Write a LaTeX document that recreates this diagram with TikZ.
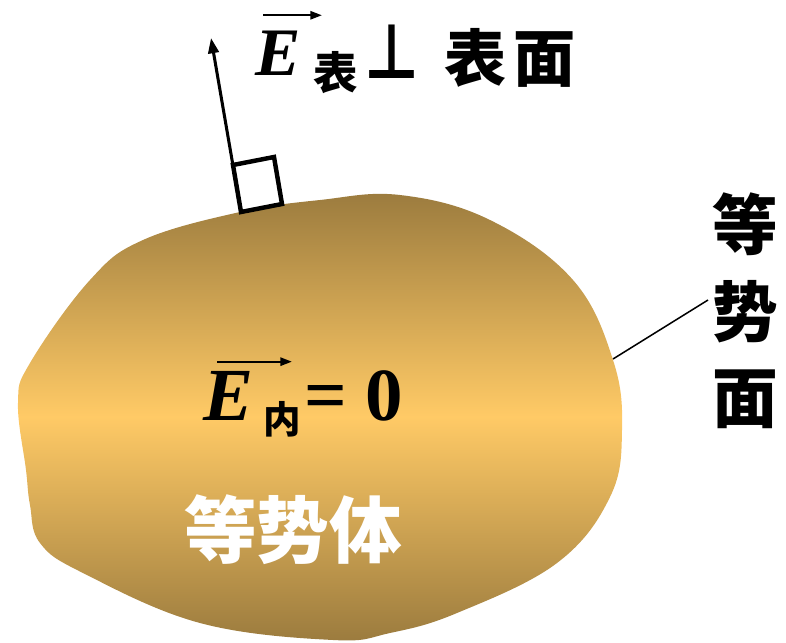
\documentclass[tikz,border=0pt]{standalone}
\usepackage{fontspec}
\setmainfont{Liberation Serif}
\newfontfamily\cjk{Noto Sans CJK SC}
\newfontfamily\symfont{DejaVu Sans}
\usetikzlibrary{arrows.meta,calc}

\definecolor{bodyedge}{HTML}{9B7B3E}
\definecolor{bodymid}{HTML}{FFCA66}

\begin{document}
\begin{tikzpicture}[
		x=0.03cm, y=-0.03cm,
		field arrow/.style={line width=2.6pt, -{Triangle[length=13pt, width=9pt]}},
		right box/.style={line width=3.8pt, line join=miter},
		vec arrow/.style={line width=2pt, -{Triangle[length=10pt, width=7pt]}},
		leader/.style={line width=1.3pt},
		bigE/.style={inner sep=0pt, font=\fontsize{#1}{#1}\selectfont\bfseries\itshape},
		han/.style={inner sep=0pt, font=\fontsize{#1}{#1}\selectfont\cjk\bfseries}
		]
		\useasboundingbox (0,0) rectangle (786,642);
		
		% ---------------------------------------------------------
		% The conductor (equipotential body)
		% ---------------------------------------------------------
		\shade[top color=bodyedge, bottom color=bodyedge, middle color=bodymid]
		plot[smooth cycle, tension=0.65] coordinates {
			(240,212) (320,200) (400,195) (490,220) (573,280) (613,360)
			(622,430) (610,497) (557,563) (457,613) (390,633) (333,640)
			(200,623) (83,573) (40,543) (30,505) (26,470) (18,403)
			(30,363) (90,280) (143,240)};
		
		% ---------------------------------------------------------
		% Field at the surface, normal to it
		% ---------------------------------------------------------
		\coordinate (foot) at (241,212);
		\coordinate (tip) at (211,38);
		\draw[field arrow] (foot) -- (tip);
		\draw[right box] (foot) -- ++(41,-8) -- ++(-8,-47) -- ++(-41,8) -- cycle;
		
		\node[bigE=58pt, anchor=base west] (Etop) at (255,75) {E};
		\draw[vec arrow] ([shift={(8,-15)}]Etop.north west) -- ([shift={(67,-15)}]Etop.north west);
		\node[han=38pt] (subtop) at (336,73) {表};
		\node[inner sep=0pt, font=\fontsize{54}{54}\selectfont\symfont\bfseries] (perp) at (392,52) {\scalebox{0.95}[1.2]{⊥}};
		\node[han=53pt] (surface) at (510,58) {表\kern6pt 面};
		
		% ---------------------------------------------------------
		% Field inside
		% ---------------------------------------------------------
		\node[bigE=64pt, anchor=base west] (Emid) at (203,420) {E};
		\draw[vec arrow] ([shift={(14,-9)}]Emid.north west) -- ([shift={(89,-9)}]Emid.north west);
		\node[han=32pt] (subin) at (282,419) {内};
		\node[inner sep=0pt, anchor=base west, font=\fontsize{64}{64}\selectfont\bfseries] (zero) at (304,420) {= 0};
		
		\node[han=62pt, text=white] (body) at (293,530) {等势体};
		
		% ---------------------------------------------------------
		% Equipotential surface label
		% ---------------------------------------------------------
		\node[han=56pt, align=center, font=\fontsize{56}{74}\selectfont\cjk\bfseries] (eqsurf) at (745,311) {等\\势\\面};
		\coordinate (edge) at (613,359);
		\coordinate (lead) at (708,300);
		\draw[leader] (edge) -- (lead);
		
	\end{tikzpicture}
\end{document}
